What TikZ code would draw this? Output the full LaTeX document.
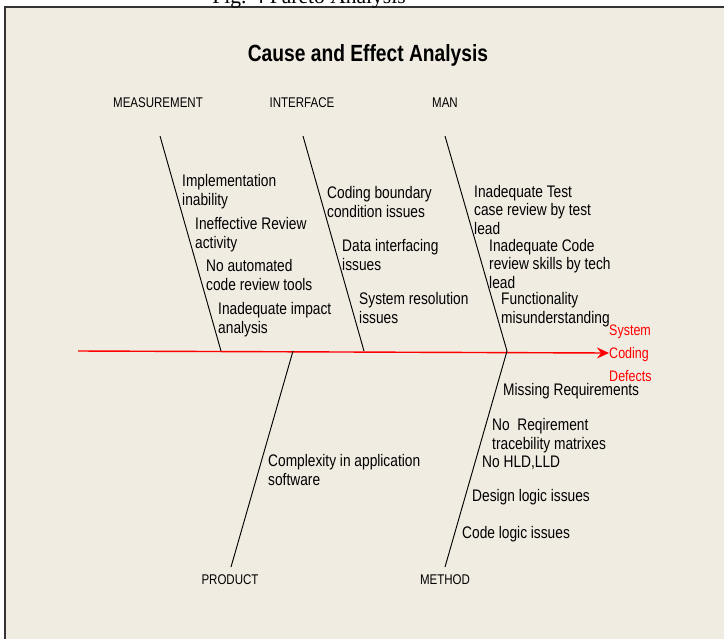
\documentclass[tikz,border=0pt]{standalone}
\usepackage{fontspec}
\setmainfont{Liberation Sans}[FakeStretch=0.82]
\newfontfamily\figfont{Liberation Serif}
\usetikzlibrary{arrows.meta}
\definecolor{paper}{RGB}{240,236,226}
\tikzset{
    cause/.style={anchor=base west, align=left, inner sep=0pt, font=\fontsize{14.3}{15.4}\selectfont},
    group/.style={inner sep=0pt, font=\fontsize{12}{14}\selectfont},
    bone/.style={line width=0.8pt},
    spine/.style={red, line width=1.2pt, -{Stealth[length=3.6mm,width=3.3mm,inset=1.2mm]}}
}
\begin{document}
\begin{tikzpicture}[x=0.3mm,y=-0.3mm]
            % page
            \useasboundingbox (0,0) rectangle (724,639);
            \fill[paper] (5,7) rectangle (724,639);
            \draw[line width=0.6mm, black!80] (724,7) -- (5,7) -- (5,639);
            \node[anchor=base, inner sep=0pt, font=\figfont\fontsize{18.4}{20}\selectfont] (fig) at (309,3) {Fig. 4 Pareto Analysis};
            \node[font=\bfseries\fontsize{20}{24}\selectfont] (title) at (368,55) {Cause and Effect Analysis};
            % groups
            \node[group] (meas)  at (158,103) {MEASUREMENT};
            \node[group] (iface) at (302,103) {INTERFACE};
            \node[group] (man)   at (445,103) {MAN};
            \node[group] (prod)  at (230,580) {PRODUCT};
            \node[group] (meth)  at (445,580) {METHOD};
            % spine
            \coordinate (tail) at (78,351);
            \node[red, anchor=west, inner sep=0pt, align=left, font=\fontsize{13}{19.6}\selectfont] (effect) at (609,353) {System\\Coding\\Defects};
            \draw[spine] (tail) -- (effect.west);
            % bones
            \coordinate (m0) at (160,136); \coordinate (m1) at (221,351);
            \coordinate (i0) at (303,136); \coordinate (i1) at (364,351);
            \coordinate (a0) at (445,136); \coordinate (a1) at (507,351);
            \coordinate (p0) at (231,567); \coordinate (p1) at (293,351);
            \coordinate (t0) at (445,567); \coordinate (t1) at (507,351);
            \draw[bone] (m0) -- (m1);
            \draw[bone] (i0) -- (i1);
            \draw[bone] (a0) -- (a1);
            \draw[bone] (p0) -- (p1);
            \draw[bone] (t0) -- (t1);
            % causes (y = baseline of last line)
            \foreach \x/\y/\t [count=\i] in {182/205/{Implementation\\inability}, 195/248/{Ineffective Review\\activity},
                206/290/{No automated\\code review tools}, 218/333/{Inadequate impact\\analysis},
                327/217/{Coding boundary\\condition issues}, 342/270/{Data interfacing\\issues},
                359/323/{System resolution\\issues},
                474/234/{Inadequate Test\\case review by test\\lead}, 489/288/{Inadequate Code\\review skills by tech\\lead},
                501/323/{Functionality\\misunderstanding},
                268/485/{Complexity in application\\software},
                503/395/{Missing Requirements}, 492/449/{No~ Reqirement\\tracebility matrixes},
                482/467/{No HLD,LLD}, 472/501/{Design logic issues}, 462/538/{Code logic issues}}
                {\node[cause] (c\i) at (\x,\y) {\t};}
        \end{tikzpicture}
\end{document}
